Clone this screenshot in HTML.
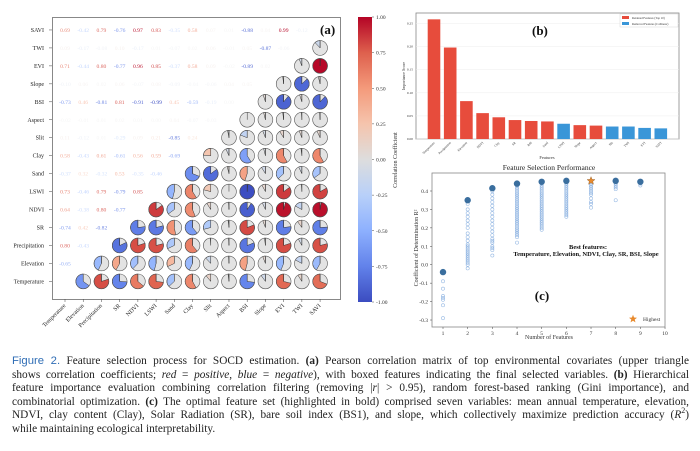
<!DOCTYPE html>
<html><head><meta charset="utf-8"><style>
body{margin:0;width:700px;height:451px;background:#fff;overflow:hidden;position:relative;font-family:"Liberation Serif",serif}
svg{position:absolute;left:0;top:0}
#cap{position:absolute;left:12px;top:355px;width:677px;font-size:11.3px;line-height:13.6px;color:#222}
#cap div{text-align:justify;text-align-last:justify;white-space:nowrap;height:13.6px}
#cap div.last{text-align-last:left}
#cap .fig{font-family:"Liberation Sans",sans-serif;color:#2f6db5}
</style></head><body>
<svg id="s" width="700" height="451"></svg>
<div id="cap">
<div><span class="fig">Figure 2.</span> Feature selection process for SOCD estimation. <b>(a)</b> Pearson correlation matrix of top environmental covariates (upper triangle</div>
<div>shows correlation coefficients; <i>red</i> = <i>positive</i>, <i>blue</i> = <i>negative</i>), with boxed features indicating the final selected variables. <b>(b)</b> Hierarchical</div>
<div>feature importance evaluation combining correlation filtering (removing |<i>r</i>| &gt; 0.95), random forest-based ranking (Gini importance), and</div>
<div>combinatorial optimization. <b>(c)</b> The optimal feature set (highlighted in bold) comprised seven variables: mean annual temperature, elevation,</div>
<div>NDVI, clay content (Clay), Solar Radiation (SR), bare soil index (BS1), and slope, which collectively maximize prediction accuracy (<i>R</i><sup style="font-size:8px;line-height:0">2</sup>)</div>
<div class="last">while maintaining ecological interpretability.</div>
</div>
<script>
// ---- Panel (a) data ----
const vars = ["Temperature","Elevation","Precipitation","SR","NDVI","LSWI","Sand","Clay","Slit","Aspect","BSI","Slope","EVI","TWI","SAVI"];
const lowerTri = [
 [],
 [-0.65],
 [0.80,-0.43],
 [-0.74,0.42,-0.82],
 [0.64,-0.38,0.80,-0.77],
 [0.73,-0.46,0.79,-0.79,0.85],
 [-0.37,0.32,-0.32,0.53,-0.35,-0.46],
 [0.58,-0.43,0.61,-0.61,0.56,0.59,-0.69],
 [0.11,-0.12,0.01,-0.29,0.09,0.21,-0.85,0.24],
 [-0.02,-0.01,0.01,0.02,0.01,-0.00,0.04,-0.07,-0.03],
 [-0.73,0.46,-0.81,0.81,-0.91,-0.99,0.45,-0.59,-0.19,0.00],
 [-0.10,0.06,0.02,0.06,-0.07,0.08,-0.09,-0.04,-0.06,0.04,0.05],
 [0.71,-0.44,0.80,-0.77,0.96,0.85,-0.37,0.58,0.09,-0.02,-0.89,0.02],
 [0.09,-0.17,-0.08,0.10,-0.17,0.01,-0.07,0.02,0.06,-0.01,0.05,-0.87,-0.06],
 [0.69,-0.42,0.79,-0.76,0.97,0.83,-0.35,0.58,0.07,0.01,-0.88,0.04,0.99,-0.12]
];
const cbTicks = [1.00,0.75,0.50,0.25,0.00,-0.25,-0.50,-0.75,-1.00];
// ---- Panel (b) data ----
const bFeatures = ["Temperature","Precipitation","Elevation","NDVI","Clay","SR","BSI","Sand","LSWI","Slope","Aspect","Slit","TWI","EVI","SAVI"];
const bImportance = [0.259,0.198,0.082,0.056,0.047,0.041,0.039,0.038,0.033,0.030,0.029,0.027,0.027,0.024,0.023];
const bRemoved = [false,false,false,false,false,false,false,false,true,false,false,true,true,true,true];
const bTicks = [0.00,0.05,0.10,0.15,0.20,0.25];
// ---- Panel (c) data ----
const cN = [1,2,3,4,5,6,7,8,9];
const cBest = [-0.04,0.35,0.415,0.44,0.45,0.455,0.455,0.455,0.45];
const cSamples = [
 [-0.09,-0.13,-0.17,-0.18,-0.19,-0.22,-0.29],
 [0.33,0.30,0.28,0.26,0.24,0.22,0.20,0.17,0.15,0.13,0.11,0.10,0.09,0.08,0.07,0.06,0.05,0.04,0.03,0.02,0.01,0.0,-0.02],
 [0.40,0.38,0.36,0.34,0.32,0.30,0.28,0.26,0.24,0.22,0.20,0.18,0.16,0.14,0.13,0.12,0.10,0.09,0.08,0.05],
 [0.43,0.42,0.41,0.40,0.39,0.38,0.37,0.36,0.35,0.34,0.33,0.32,0.31,0.30,0.29,0.28,0.27,0.26,0.25,0.24,0.23,0.22,0.21,0.20,0.19,0.18,0.17,0.16,0.15,0.12],
 [0.44,0.43,0.42,0.41,0.40,0.39,0.38,0.37,0.36,0.35,0.34,0.33,0.32,0.31,0.30,0.29,0.28,0.27,0.26,0.25,0.24,0.23,0.22,0.21,0.20,0.19],
 [0.45,0.44,0.43,0.42,0.41,0.40,0.39,0.38,0.37,0.36,0.35,0.34,0.33,0.32,0.31,0.30,0.29,0.28,0.27,0.26],
 [0.45,0.44,0.43,0.42,0.41,0.40,0.39,0.38,0.36,0.34,0.33,0.31],
 [0.45,0.44,0.43,0.42,0.41,0.35],
 [0.44,0.43]
];
const cXTicks = [1,2,3,4,5,6,7,8,9,10];
const cYTicks = [-0.3,-0.2,-0.1,0.0,0.1,0.2,0.3,0.4];

const S = document.getElementById('s');
const NS = 'http://www.w3.org/2000/svg';
function mk(tag, at, parent){const e=document.createElementNS(NS,tag);for(const k in at)e.setAttribute(k,at[k]);(parent||S).appendChild(e);return e;}
function txt(str, at, parent){const e=mk('text',at,parent);e.textContent=str;return e;}
const stops=[[59,76,192],[98,130,234],[141,176,254],[184,208,249],[221,221,221],[245,196,173],[244,154,123],[222,96,77],[180,4,38]];
function cmap(v){let t=(v+1)/2*8;t=Math.max(0,Math.min(8,t));const i=Math.min(7,Math.floor(t)),f=t-i;const a=stops[i],b=stops[i+1];return `rgb(${a.map((x,k)=>Math.round(x+(b[k]-x)*f)).join(',')})`;}
function corr(i,j){return i>j?lowerTri[i][j]:lowerTri[j][i];}

// ===== Panel A =====
const A=mk('g',{});
const ax0=65, axStep=18.22, ay0=281.4, ayStep=17.96;
const colX=j=>ax0+j*axStep, rowY=k=>ay0-k*ayStep;
mk('rect',{x:52.5,y:17.5,width:288,height:282,fill:'none',stroke:'#888','stroke-width':1},A);
vars.forEach((v,k)=>{
  const y=rowY(k);
  const l=txt(v,{x:44,y:y+2,'font-size':6,'text-anchor':'end',fill:'#222'},A);
   
  mk('line',{x1:49,x2:52,y1:y,y2:y,stroke:'#444','stroke-width':0.5},A);
  const x=colX(k);
  mk('line',{x1:x,x2:x,y1:299,y2:302,stroke:'#444','stroke-width':0.5},A);
  const c=txt(v,{x:x+1,y:306,'font-size':6,'text-anchor':'end',fill:'#222',transform:`rotate(-45 ${x+1} 306)`},A);
   
});
for(let k=0;k<vars.length;k++){
  for(let j=0;j<vars.length;j++){
    if(j===k)continue;
    const r=corr(k,j), x=colX(j), y=rowY(k);
    if(j<k){
      const t=txt(r.toFixed(2),{x:x,y:y+2,'font-size':5.6,'text-anchor':'middle',fill:cmap(r),'fill-opacity':(0.25+0.75*Math.abs(r)).toFixed(2)},A);
       
    } else {
      const g=mk('g',{},A);
       
      const R=7.4;
      mk('circle',{cx:x,cy:y,r:R,fill:'#e3e3e3'},g);
      const f=Math.abs(r);
      if(f>=0.999){mk('circle',{cx:x,cy:y,r:R,fill:cmap(r)},g);}
      else if(f>0){
        const ang=f*2*Math.PI;
        const ex=x-R*Math.sin(ang), ey=y-R*Math.cos(ang);
        mk('path',{d:`M${x},${y} L${x},${y-R} A${R},${R} 0 ${f>0.5?1:0} 0 ${ex},${ey} Z`,fill:cmap(r),stroke:'#333','stroke-width':0.5},g);
      }
      mk('line',{x1:x,y1:y,x2:x,y2:y-R,stroke:'#333','stroke-width':0.5},g);
      mk('circle',{cx:x,cy:y,r:R,fill:'none',stroke:'#555','stroke-width':0.6},g);
    }
  }
}
const la=txt('(a)',{x:320,y:34,'font-size':13,'font-weight':'bold',fill:'#111'},A);
 
// colorbar
const CB=mk('g',{});
const defs=mk('defs',{});const lg=mk('linearGradient',{id:'cbg',x1:0,y1:0,x2:0,y2:1},defs);
for(let i=0;i<=8;i++)mk('stop',{offset:i/8,'stop-color':`rgb(${stops[8-i].join(',')})`},lg);
mk('rect',{x:358,y:17,width:14,height:285,fill:'url(#cbg)'},CB);
cbTicks.forEach(v=>{const y=17+(1-v)/2*285;mk('line',{x1:372,x2:374,y1:y,y2:y,stroke:'#444','stroke-width':0.5},CB);txt(v.toFixed(2),{x:376,y:y+2,'font-size':5.5,fill:'#333'},CB);});
txt('Correlation Coefficient',{x:397,y:160,'font-size':6,'text-anchor':'middle',fill:'#333',transform:'rotate(-90 397 160)'},CB);

// ===== Panel B =====
const B=mk('g',{});
const bL=416,bR=679,bT=13,bB=139;
const byS=v=>bB-v/0.05*23.1;
mk('rect',{x:bL,y:bT,width:bR-bL,height:bB-bT,fill:'#fff',stroke:'#888','stroke-width':0.8},B);
bTicks.forEach(v=>{const y=byS(v);mk('line',{x1:bL,x2:bR,y1:y,y2:y,stroke:'#eee','stroke-width':0.5},B);txt(v.toFixed(2),{x:bL-3,y:y+1,'font-size':3.5,'text-anchor':'end',fill:'#333'},B);});
const bx0=434,bStep=16.2;
bFeatures.forEach((f,i)=>{
  const x=bx0+i*bStep,y=byS(bImportance[i]);
  const r=mk('rect',{x:x-6.3,y:y,width:12.6,height:bB-y,fill:bRemoved[i]?'#3a96d8':'#e74c3c'},B);
   
  txt(f,{x:x+1,y:bB+4,'font-size':3.2,'text-anchor':'end',fill:'#333',transform:`rotate(-45 ${x+1} ${bB+4})`},B);
});
txt('Importance Score',{x:405,y:76,'font-size':4,'text-anchor':'middle',fill:'#333',transform:'rotate(-90 405 76)'},B);
txt('Features',{x:547,y:159,'font-size':4.5,'text-anchor':'middle',fill:'#333'},B);
const lb=txt('(b)',{x:532,y:35,'font-size':13,'font-weight':'bold',fill:'#111'},B);
 
const BL=mk('g',{},B);
mk('rect',{x:620,y:14,width:58,height:13,fill:'#fff',stroke:'#ccc','stroke-width':0.4},BL);
mk('rect',{x:622,y:16,width:7,height:3,fill:'#e74c3c'},BL);
mk('rect',{x:622,y:22,width:7,height:3,fill:'#3a96d8'},BL);
txt('Retained Features (Top 10)',{x:632,y:19,'font-size':3,fill:'#333'},BL);
txt('Removed Features (Collinear)',{x:632,y:25,'font-size':3,fill:'#333'},BL);

// ===== Panel C =====
const C=mk('g',{});
const cL=432,cR=665,cT=173,cB=327;
const cx=n=>443+(n-1)*24.67, cy=v=>191-(v-0.4)/0.1*18.43;
mk('rect',{x:cL,y:cT,width:cR-cL,height:cB-cT,fill:'#fff',stroke:'#888','stroke-width':0.8},C);
txt('Feature Selection Performance',{x:549,y:170,'font-size':7.5,'text-anchor':'middle',fill:'#222'},C);
cXTicks.forEach(n=>{const x=cx(n);mk('line',{x1:x,x2:x,y1:cB,y2:cB+2,stroke:'#444','stroke-width':0.5},C);txt(String(n),{x:x,y:cB+8,'font-size':5.5,'text-anchor':'middle',fill:'#333'},C);});
cYTicks.forEach(v=>{const y=cy(v);mk('line',{x1:cL-2,x2:cL,y1:y,y2:y,stroke:'#444','stroke-width':0.5},C);txt(v.toFixed(1),{x:cL-4,y:y+2,'font-size':5.5,'text-anchor':'end',fill:'#333'},C);});
txt('Number of Features',{x:549,y:339,'font-size':6,'text-anchor':'middle',fill:'#333'},C);
txt('Coefficient of Determination R²',{x:418,y:248,'font-size':6,'text-anchor':'middle',fill:'#333',transform:'rotate(-90 418 248)'},C);
cSamples.forEach((arr,i)=>arr.forEach(v=>{
  const p=mk('circle',{cx:cx(cN[i]),cy:cy(v),r:1.6,fill:'none',stroke:'#7aa6dc','stroke-width':0.6,'stroke-opacity':0.8},C);
   
}));
cN.forEach((n,i)=>{
  if(n===7){
    const x=cx(n),y=cy(cBest[i]);let d='';for(let k=0;k<10;k++){const a=-Math.PI/2+k*Math.PI/5,rr=k%2?1.8:4.2;d+=(k?'L':'M')+(x+rr*Math.cos(a)).toFixed(2)+','+(y+rr*Math.sin(a)).toFixed(2);}
    const st=mk('path',{d:d+'Z',fill:'#e88a2d',stroke:'#8a5a2a','stroke-width':0.4},C);
     
  } else {
    const b=mk('circle',{cx:cx(n),cy:cy(cBest[i]),r:3.2,fill:'#3a6e9e'},C);
     
  }
});
txt('Best features:',{x:588,y:249,'font-size':6.5,'font-weight':'bold','text-anchor':'middle',fill:'#111'},C);
txt('Temperature, Elevation, NDVI, Clay, SR, BSI, Slope',{x:586,y:256,'font-size':6.5,'font-weight':'bold','text-anchor':'middle',fill:'#111'},C);
const lc=txt('(c)',{x:542,y:300,'font-size':13,'font-weight':'bold','text-anchor':'middle',fill:'#111'},C);
 
const CL=mk('g',{},C);
{const x=633,y=319;let d='';for(let k=0;k<10;k++){const a=-Math.PI/2+k*Math.PI/5,rr=k%2?1.8:4.2;d+=(k?'L':'M')+(x+rr*Math.cos(a)).toFixed(2)+','+(y+rr*Math.sin(a)).toFixed(2);}mk('path',{d:d+'Z',fill:'#e88a2d'},CL);}
txt('Highest',{x:643,y:321,'font-size':5.5,fill:'#333'},CL);
</script>
</body></html>
